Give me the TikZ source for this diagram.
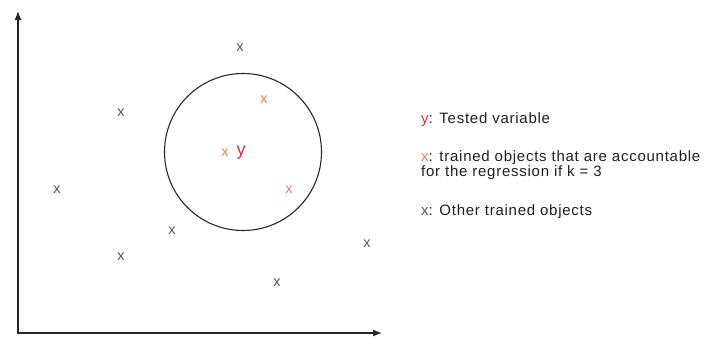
\documentclass[tikz,border=0pt]{standalone}
\usepackage{fontspec}
\setmainfont{Liberation Sans}
\usetikzlibrary{arrows.meta}
\definecolor{ptgray}{HTML}{555555}
\definecolor{ptorange}{HTML}{EE7F55}
\definecolor{ptred}{HTML}{E02C3C}
\tikzset{
  axis/.style    = {{Latex[length=9pt,width=7pt]}-{Latex[length=9pt,width=7pt]}, line width=1.2pt, black!85},
  other/.style   = {text=ptgray, font=\fontsize{14.5}{16}\selectfont, inner sep=0pt},
  near/.style    = {text=ptorange, font=\fontsize{14.5}{16}\selectfont, inner sep=0pt},
  tested/.style  = {text=ptred, font=\fontsize{18}{20}\selectfont, inner sep=0pt},
  legend/.style  = {anchor=west, align=left, inner sep=0pt, text=black!88,
                    font=\fontsize{15}{15}\selectfont\addfontfeature{LetterSpace=5}},
  ring/.style    = {draw=black!85, line width=1.1pt},
}
\begin{document}
\begin{tikzpicture}[x=1pt,y=-1pt]
\useasboundingbox (0,0) rectangle (707,338);

% axes
\coordinate (ytop) at (18,11);
\coordinate (xend) at (382,333);
\draw[axis] (ytop) |- (xend);

% neighbourhood of the tested variable
\node[ring, circle, minimum size=157pt, inner sep=0pt] (hood) at (243,152) {};

% other trained objects
\node[other] (o1) at (240,48)  {x};
\node[other] (o2) at (121,113) {x};
\node[other] (o3) at (57,190)  {x};
\node[other] (o4) at (172,231) {x};
\node[other] (o5) at (121,257) {x};
\node[other] (o6) at (367,244) {x};
\node[other] (o7) at (277,283) {x};

% the k = 3 nearest ones
\node[near] (n1) at (264,100) {x};
\node[near] (n2) at (225,153) {x};
\node[near] (n3) at (289,190) {x};

\node[tested] (y) at (241,153) {y};

% legend
\node[legend] (ly) at (421,120) {\textcolor{ptred}{y}: Tested variable};
\node[legend] (lx) at (421,165) {\textcolor{ptorange}{x}: trained objects that are accountable\\for the regression if k = 3};
\node[legend] (lo) at (421,212) {\textcolor{ptgray}{x}: Other trained objects};
\end{tikzpicture}
\end{document}
